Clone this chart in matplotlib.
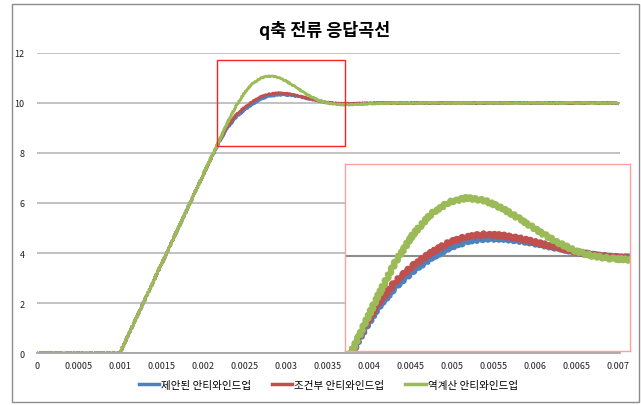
import matplotlib
matplotlib.use('Agg')
import matplotlib.pyplot as plt
from matplotlib.patches import Rectangle

plt.rcParams['font.family'] = ['Noto Sans CJK KR', 'DejaVu Sans']

TITLE = 'q축 전류 응답곡선'
LABELS = ['제안된 안티와인드업', '조건부 안티와인드업', '역계산 안티와인드업']
COLORS = ['#4F81BD', '#C0504D', '#9BBB59']

# time in seconds
T = [0.0, 0.0010, 0.0020, 0.0022, 0.0023, 0.0024, 0.0025, 0.0026, 0.0027,
     0.0028, 0.0029, 0.0030, 0.0031, 0.0032, 0.0033, 0.0034, 0.0035,
     0.0036, 0.0037, 0.0038, 0.0039, 0.0040, 0.0042, 0.0045, 0.0050,
     0.0060, 0.0070]
I_PROPOSED = [0.0, 0.0, 7.10, 8.46, 9.02, 9.42, 9.72, 9.96, 10.15, 10.27,
              10.32, 10.32, 10.28, 10.22, 10.15, 10.08, 10.02, 9.98, 9.97,
              9.97, 9.98, 9.99, 10.0, 10.0, 10.0, 10.0, 10.0]
I_CONDITIONAL = [0.0, 0.0, 7.10, 8.50, 9.10, 9.52, 9.82, 10.06, 10.25, 10.36,
                 10.40, 10.38, 10.32, 10.24, 10.16, 10.08, 10.02, 9.98, 9.97,
                 9.97, 9.98, 9.99, 10.0, 10.0, 10.0, 10.0, 10.0]
I_BACKCALC = [0.0, 0.0, 7.10, 8.52, 9.23, 9.88, 10.40, 10.78, 11.00, 11.08,
              11.03, 10.88, 10.68, 10.46, 10.26, 10.10, 10.00, 9.95, 9.93,
              9.93, 9.95, 9.97, 9.99, 10.0, 10.0, 10.0, 10.0]
SERIES = [I_PROPOSED, I_CONDITIONAL, I_BACKCALC]

XTICKS = [0, 0.0005, 0.001, 0.0015, 0.002, 0.0025, 0.003, 0.0035, 0.004,
          0.0045, 0.005, 0.0055, 0.006, 0.0065, 0.007]
XTICK_LABELS = ['0', '0.0005', '0.001', '0.0015', '0.002', '0.0025', '0.003',
                '0.0035', '0.004', '0.0045', '0.005', '0.0055', '0.006',
                '0.0065', '0.007']
YTICKS = [0, 2, 4, 6, 8, 10, 12]

# zoomed region (red box) and what the enlarged view shows
ZOOM_X = [0.00217, 0.00371]
ZOOM_Y = [8.28, 11.74]
INSET_X = [0.00212, 0.00371]
INSET_Y = [8.23, 11.71]


def main():
  fig = plt.figure(figsize=(6.41, 4.06), dpi=100)
  fig.add_artist(Rectangle((12 / 641, 3 / 406), 627 / 641, 398 / 406,
                           transform=fig.transFigure, fill=False,
                           edgecolor='#8c8c8c', linewidth=1.0))
  ax = fig.add_axes([37 / 641, 1 - 354 / 406, 583 / 641, 300 / 406])
  for y, c, lab in zip(SERIES, COLORS, LABELS):
    ln, = ax.plot(T, y, color=c, linewidth=2.0, label=lab)
    ln.set_sketch_params(scale=0.6, length=3, randomness=2)
  ax.set_xlim(0, 0.00703)
  ax.set_ylim(0, 12)
  ax.set_xticks(XTICKS)
  ax.set_xticklabels(XTICK_LABELS)
  ax.set_yticks(YTICKS)
  ax.set_yticklabels([str(v) for v in YTICKS])
  ax.tick_params(length=0, labelsize=6.5, colors='#222222')
  ax.tick_params(axis='x', pad=6)
  ax.tick_params(axis='y', pad=9)
  ax.grid(axis='y', color='#bdbdbd', linewidth=1.3)
  ax.set_axisbelow(True)
  for s in ['top', 'right', 'left']:
    ax.spines[s].set_visible(False)
  ax.spines['bottom'].set_color('#a6a6a6')
  ax.spines['bottom'].set_linewidth(1.3)
  ax.add_patch(Rectangle((ZOOM_X[0], ZOOM_Y[0]), ZOOM_X[1] - ZOOM_X[0],
                         ZOOM_Y[1] - ZOOM_Y[0], fill=False, edgecolor='#ff2020',
                         linewidth=1.0, zorder=5))
  fig.text(0.507, 1 - 30 / 406, TITLE, ha='center', va='center',
           fontsize=12.5, fontweight='bold')
  leg = fig.legend(loc='center', bbox_to_anchor=(0.512, 1 - 386 / 406), ncol=3,
                   frameon=False, fontsize=7.6, handlelength=1.9,
                   handletextpad=0.2, columnspacing=2.0)
  for h in leg.get_lines():
    h.set_sketch_params(None)
    h.set_linewidth(2.5)

  axin = fig.add_axes([345 / 641, 1 - 352 / 406, 285 / 641, 187 / 406])
  for y, c in zip(SERIES, COLORS):
    ln, = axin.plot(T, y, color=c, linewidth=4.0)
    ln.set_sketch_params(scale=1.5, length=6, randomness=2)
  axin.set_xlim(INSET_X)
  axin.set_ylim(INSET_Y)
  axin.set_xticks([])
  axin.set_yticks([10])
  axin.tick_params(length=0, labelleft=False)
  axin.grid(axis='y', color='#8c8c8c', linewidth=1.5)
  axin.set_axisbelow(True)
  for s in axin.spines.values():
    s.set_color('#ffa0a0')
    s.set_linewidth(1.0)

  fig.savefig('out.png', dpi=100)


if __name__ == '__main__':
  main()
